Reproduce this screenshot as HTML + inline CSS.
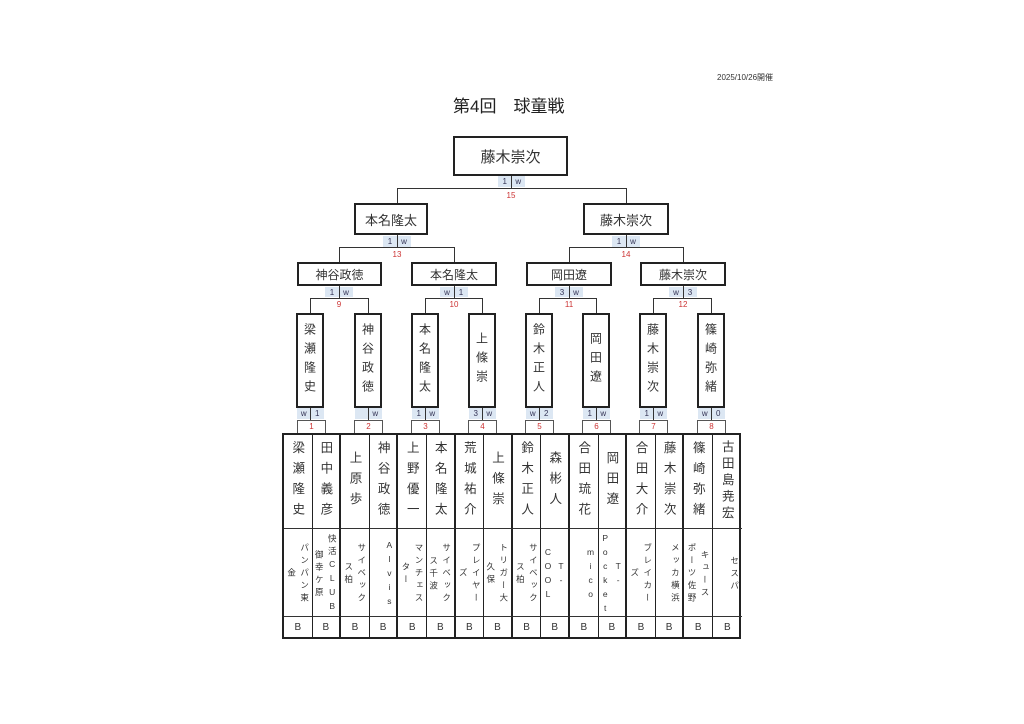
<!DOCTYPE html>
<html><head><meta charset="utf-8"><style>
*{margin:0;padding:0;box-sizing:border-box}
body{width:1024px;height:724px;background:#fff;position:relative;overflow:hidden;font-family:"Liberation Sans","Noto Sans CJK JP",sans-serif;color:#222}
.a{position:absolute}
.hl{position:absolute;height:1px;background:#333}
.vl{position:absolute;width:1px;background:#333}
.box{position:absolute;border:2.5px solid #222;background:#fff;display:flex;align-items:center;justify-content:center;color:#333}
.vbox{position:absolute;border:2.5px solid #222;background:#fff;writing-mode:vertical-rl;text-orientation:upright;font-size:12px;letter-spacing:7px;display:flex;align-items:center;justify-content:center;color:#333}
.sc{position:absolute;background:#dce7f3;font-size:8px;color:#335;display:flex;line-height:11px}
.sc span{flex:1;text-align:center}
.num{position:absolute;font-size:8px;color:#c33;text-align:center;width:30px}
.nb{position:absolute;border:1px solid #555;background:#fff;font-size:8px;color:#c33;text-align:center;line-height:12px}
.cell{position:absolute;border-right:1px solid #333;border-bottom:1px solid #333}
.nm{writing-mode:vertical-rl;text-orientation:upright;font-size:12.5px;display:flex;align-items:center;justify-content:center;color:#333}
.tm{writing-mode:vertical-rl;text-orientation:upright;font-size:8.5px;line-height:13px;letter-spacing:4px;text-align:center;color:#333;padding:0 1px;overflow:hidden}
.b{font-size:10px;display:flex;align-items:center;justify-content:center;color:#333}
</style></head><body>
<div class="a" style="left:717px;top:72px;font-size:8px;color:#333">2025/10/26開催</div>
<div class="a" style="left:453px;top:92px;font-size:17px;color:#222">第4回　球童戦</div>

<div class="box" style="left:453px;top:136px;width:115px;height:40px;font-size:15px">藤木崇次</div>
<div class="sc" style="left:498px;top:176px;width:27px;height:11px"><span>1</span><span>w</span></div>
<div class="vl" style="left:511px;top:176px;height:12px"></div>
<div class="hl" style="left:397px;top:188px;width:230px"></div>
<div class="num" style="left:496px;top:191px">15</div>
<div class="vl" style="left:397px;top:188px;height:15px"></div>
<div class="vl" style="left:626px;top:188px;height:15px"></div>

<div class="box" style="left:354px;top:203px;width:74px;height:32px;font-size:13px">本名隆太</div>
<div class="box" style="left:583px;top:203px;width:86px;height:32px;font-size:13px">藤木崇次</div>
<div class="sc" style="left:383px;top:236px;width:28px;height:11px"><span>1</span><span>w</span></div>
<div class="sc" style="left:612px;top:236px;width:28px;height:11px"><span>1</span><span>w</span></div>
<div class="vl" style="left:397px;top:235px;height:12px"></div>
<div class="vl" style="left:626px;top:235px;height:12px"></div>
<div class="hl" style="left:339px;top:247px;width:116px"></div>
<div class="hl" style="left:569px;top:247px;width:115px"></div>
<div class="num" style="left:382px;top:250px">13</div>
<div class="num" style="left:611px;top:250px">14</div>
<div class="vl" style="left:339px;top:247px;height:15px"></div>
<div class="vl" style="left:454px;top:247px;height:15px"></div>
<div class="vl" style="left:569px;top:247px;height:15px"></div>
<div class="vl" style="left:683px;top:247px;height:15px"></div>

<div class="box" style="left:297px;top:262px;width:85px;height:24px;font-size:12px">神谷政徳</div>
<div class="box" style="left:411px;top:262px;width:86px;height:24px;font-size:12px">本名隆太</div>
<div class="box" style="left:526px;top:262px;width:86px;height:24px;font-size:12px">岡田遼</div>
<div class="box" style="left:640px;top:262px;width:86px;height:24px;font-size:12px">藤木崇次</div>
<div class="sc" style="left:325px;top:287px;width:28px;height:10px"><span>1</span><span>w</span></div>
<div class="sc" style="left:440px;top:287px;width:28px;height:10px"><span>w</span><span>1</span></div>
<div class="sc" style="left:555px;top:287px;width:28px;height:10px"><span>3</span><span>w</span></div>
<div class="sc" style="left:669px;top:287px;width:28px;height:10px"><span>w</span><span>3</span></div>
<div class="vl" style="left:339px;top:286px;height:12px"></div>
<div class="vl" style="left:454px;top:286px;height:12px"></div>
<div class="vl" style="left:569px;top:286px;height:12px"></div>
<div class="vl" style="left:683px;top:286px;height:12px"></div>
<div class="hl" style="left:310px;top:298px;width:58px"></div>
<div class="hl" style="left:425px;top:298px;width:58px"></div>
<div class="hl" style="left:539px;top:298px;width:58px"></div>
<div class="hl" style="left:653px;top:298px;width:58px"></div>
<div class="num" style="left:324px;top:300px">9</div>
<div class="num" style="left:439px;top:300px">10</div>
<div class="num" style="left:554px;top:300px">11</div>
<div class="num" style="left:668px;top:300px">12</div>
<div class="vl" style="left:310px;top:298px;height:15px"></div>
<div class="vl" style="left:368px;top:298px;height:15px"></div>
<div class="vl" style="left:425px;top:298px;height:15px"></div>
<div class="vl" style="left:482px;top:298px;height:15px"></div>
<div class="vl" style="left:539px;top:298px;height:15px"></div>
<div class="vl" style="left:596px;top:298px;height:15px"></div>
<div class="vl" style="left:653px;top:298px;height:15px"></div>
<div class="vl" style="left:711px;top:298px;height:15px"></div>

<div class="vbox" style="left:296px;top:313px;width:28px;height:95px">梁瀬隆史</div>
<div class="vbox" style="left:354px;top:313px;width:28px;height:95px">神谷政徳</div>
<div class="vbox" style="left:411px;top:313px;width:28px;height:95px">本名隆太</div>
<div class="vbox" style="left:468px;top:313px;width:28px;height:95px">上條崇</div>
<div class="vbox" style="left:525px;top:313px;width:28px;height:95px">鈴木正人</div>
<div class="vbox" style="left:582px;top:313px;width:28px;height:95px">岡田遼</div>
<div class="vbox" style="left:639px;top:313px;width:28px;height:95px">藤木崇次</div>
<div class="vbox" style="left:697px;top:313px;width:28px;height:95px">篠崎弥緒</div>

<div class="sc" style="left:297px;top:408px;width:27px;height:11px"><span>w</span><span>1</span></div>
<div class="sc" style="left:355px;top:408px;width:27px;height:11px"><span></span><span>w</span></div>
<div class="sc" style="left:412px;top:408px;width:27px;height:11px"><span>1</span><span>w</span></div>
<div class="sc" style="left:469px;top:408px;width:27px;height:11px"><span>3</span><span>w</span></div>
<div class="sc" style="left:526px;top:408px;width:27px;height:11px"><span>w</span><span>2</span></div>
<div class="sc" style="left:583px;top:408px;width:27px;height:11px"><span>1</span><span>w</span></div>
<div class="sc" style="left:640px;top:408px;width:27px;height:11px"><span>1</span><span>w</span></div>
<div class="sc" style="left:698px;top:408px;width:27px;height:11px"><span>w</span><span>0</span></div>
<div class="vl" style="left:310px;top:408px;height:12px"></div>
<div class="vl" style="left:368px;top:408px;height:12px"></div>
<div class="vl" style="left:425px;top:408px;height:12px"></div>
<div class="vl" style="left:482px;top:408px;height:12px"></div>
<div class="vl" style="left:539px;top:408px;height:12px"></div>
<div class="vl" style="left:596px;top:408px;height:12px"></div>
<div class="vl" style="left:653px;top:408px;height:12px"></div>
<div class="vl" style="left:711px;top:408px;height:12px"></div>

<div class="nb" style="left:297px;top:420px;width:29px;height:14px">1</div>
<div class="nb" style="left:354px;top:420px;width:29px;height:14px">2</div>
<div class="nb" style="left:411px;top:420px;width:29px;height:14px">3</div>
<div class="nb" style="left:468px;top:420px;width:29px;height:14px">4</div>
<div class="nb" style="left:525px;top:420px;width:29px;height:14px">5</div>
<div class="nb" style="left:582px;top:420px;width:29px;height:14px">6</div>
<div class="nb" style="left:639px;top:420px;width:29px;height:14px">7</div>
<div class="nb" style="left:697px;top:420px;width:29px;height:14px">8</div>

<div id="tbl" class="a" style="left:282px;top:433px;width:459px;height:206px;border:2px solid #222"></div>
<script>
var names=["梁瀬隆史","田中義彦","上原歩","神谷政徳","上野優一","本名隆太","荒城祐介","上條崇","鈴木正人","森彬人","合田琉花","岡田遼","合田大介","藤木崇次","篠崎弥緒","古田島尭宏"];
var teams=["パンパン東<br>金","快活CLUB<br>御幸ケ原","サイベック<br>ス柏","Alvis","マンチェス<br>ター","サイベック<br>ス千波","プレイヤー<br>ズ","トリガー大<br>久保","サイベック<br>ス柏","T-<br>COOL","mico","T-<br>Pocket","ブレイカー<br>ズ","メッカ横浜","キュース<br>ポーツ佐野","セスパ"];
var h="",w=28.6;
for(var i=0;i<16;i++){
 var x=284+i*w, bw=(i%2==1&&i<15)?2:1, last=i==15;
 var br=last?"border-right:none;":"border-right:"+bw+"px solid #222;";
 var ls=names[i].length>=5?"4px":"8px";
 h+='<div class="cell nm" style="'+br+'left:'+x+'px;top:435px;width:'+w+'px;height:94px;letter-spacing:'+ls+'">'+names[i]+'</div>';
 h+='<div class="cell tm" style="'+br+'left:'+x+'px;top:529px;width:'+w+'px;height:88px;padding-top:4px">'+teams[i]+'</div>';
 h+='<div class="cell b" style="'+br+'border-bottom:none;left:'+x+'px;top:617px;width:'+w+'px;height:20px">B</div>';
}
document.write(h);
</script>
</body></html>
